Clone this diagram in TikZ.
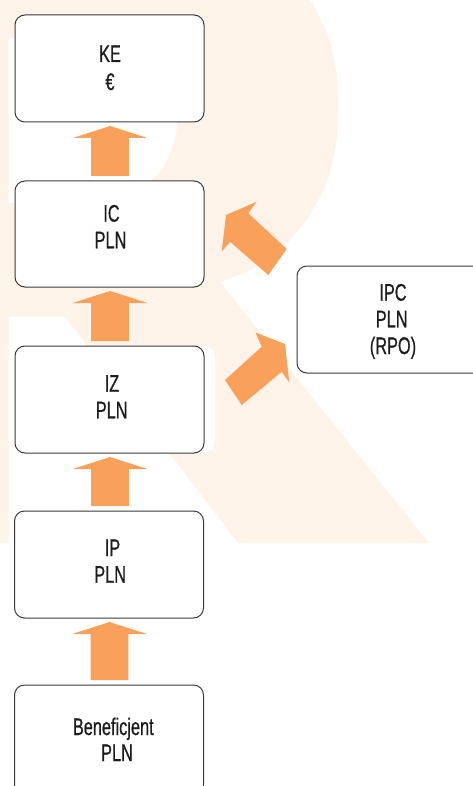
\documentclass[tikz,border=0pt]{standalone}
\usepackage{fontspec}
\newfontfamily\condfont{Liberation Sans}[FakeStretch=0.68,FakeBold=0.6]
\usetikzlibrary{calc}
\definecolor{peach}{HTML}{FEF3E9}
\definecolor{arrowor}{HTML}{F9A15B}
\definecolor{boxline}{HTML}{3A3A3A}
\definecolor{textcol}{HTML}{1E1B1C}
\tikzset{
  boxnode/.style={draw=boxline, line width=1pt, fill=white, rounded corners=10pt,
    inner sep=0pt, outer sep=0pt, minimum width=189pt, minimum height=107pt, anchor=north west},
  txt/.style={inner sep=0pt, anchor=base, font=\condfont\fontsize{24pt}{28pt}\selectfont, text=textcol},
  arrowfill/.style={fill=arrowor},
}
\newcommand\blockup[2]{%
  \fill[arrowfill] let \p1=(#2.south), \p2=(#1.north) in
   (\x1+0.5pt,\y1-4pt) -- (\x1+38pt,\y1-16pt) -- (\x1+19.3pt,\y1-16pt) -- (\x1+19.3pt,\y2+5pt)
   -- (\x1-18.3pt,\y2+5pt) -- (\x1-18.3pt,\y1-16pt) -- (\x1-36.8pt,\y1-16pt) -- cycle;}
\begin{document}
\begin{tikzpicture}[x=1pt,y=-1pt]
\useasboundingbox (0,0) rectangle (473,786);
\clip (0,0) rectangle (473,786);
% watermark R
\fill[peach, even odd rule] (-5,-5) -- (306,-5) -- plot[smooth] coordinates {(306,-5) (310,0) (327,33) (336,70) (338,100) (336.5,140) (326.5,183) (306.5,220) (283,246.5) (250,270) (220,282)}
  -- (429.3,543.3) -- (238.3,543.3) -- (65,316.7) -- (8.5,316.7) -- (8.5,543.3) -- (-5,543.3) -- cycle
  (8.5,38) -- (96,38) arc[start angle=-90, end angle=90, x radius=81, y radius=82.5] -- (8.5,203) -- cycle;
\fill[white, rounded corners=10pt] (190,346.5) rectangle (215,452.5);
% boxes
\node[boxnode] (ke) at (15,15) {};
\node[boxnode, minimum height=106pt] (ic) at (15,181) {};
\node[boxnode] (iz) at (15,346) {};
\node[boxnode] (ip) at (14.5,511) {};
\node[boxnode, minimum height=110pt] (ben) at (14.5,685) {};
\node[boxnode, minimum width=200pt] (ipc) at (297,266) {};
% texts
\node[txt] (ke1) at (110,62) {KE};
\node[txt] (ke2) at (110,90) {€};
\node[txt] (ic1) at (111.5,221.7) {IC};
\node[txt] (ic2) at (110.5,248.3) {PLN};
\node[txt] (iz1) at (112,391.7) {IZ};
\node[txt] (iz2) at (111.7,418.3) {PLN};
\node[txt] (ip1) at (112.5,556) {IP};
\node[txt] (ip2) at (110.2,582.7) {PLN};
\node[txt] (ben1) at (113.3,735) {Beneficjent};
\node[txt] (ben2) at (117,761) {PLN};
\node[txt] (ipc1) at (393,300.7) {IPC};
\node[txt] (ipc2) at (391.7,327.3) {PLN};
\node[txt] (ipc3) at (393,354) {(RPO)};
% vertical arrows
\blockup{ic}{ke}
\blockup{iz}{ic}
\blockup{ip}{iz}
\blockup{ben}{ip}
% diagonal arrows
\fill[arrowfill] (286.7,249) -- (248.3,213.3) -- (256.7,201.7) -- (226,215) -- (221.7,251.7) -- (230,241.7) -- (268.3,275) -- cycle;
\fill[arrowfill] (225,380) -- (261.7,346.7) -- (255.5,332.5) -- (285,344) -- (289.3,382.5) -- (281.7,371.7) -- (241.7,405) -- cycle;
\end{tikzpicture}
\end{document}
